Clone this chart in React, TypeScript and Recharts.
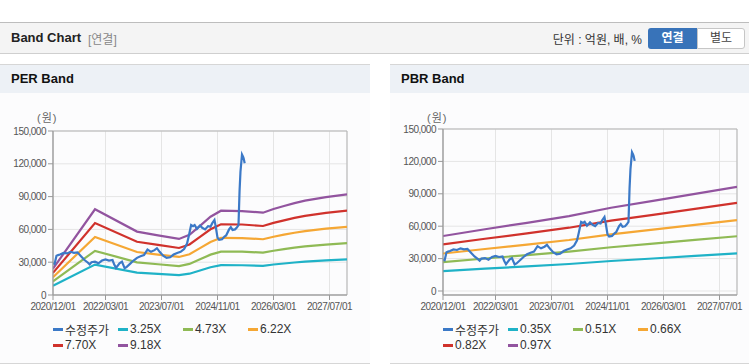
import React from "react";
import { LineChart, Line, XAxis, YAxis, CartesianGrid, ReferenceArea } from "recharts";

// x axis
const xTickLabels = ["2020/12/01", "2022/03/01", "2023/07/01", "2024/11/01", "2026/03/01", "2027/07/01"];
const xStart = "2020/12/01";
const xEnd = "2027/12/01";
const yTicks = [0, 30000, 60000, 90000, 120000, 150000];

// 수정주가 (same in both charts)
const priceDates = [
  "2020/12/01", "2020/12/15", "2021/01/01", "2021/01/15", "2021/02/01", "2021/03/01", "2021/04/01",
  "2021/05/01", "2021/06/01", "2021/07/01", "2021/08/01", "2021/09/01", "2021/10/01", "2021/10/15",
  "2021/11/01", "2021/12/01", "2022/01/01", "2022/02/01", "2022/03/01", "2022/04/01", "2022/05/01",
  "2022/05/15", "2022/06/01", "2022/07/01", "2022/07/22", "2022/08/15", "2022/09/01", "2022/10/01",
  "2022/11/01", "2022/12/01", "2023/01/01", "2023/02/01", "2023/03/01", "2023/04/01", "2023/05/01",
  "2023/05/22", "2023/06/15", "2023/07/15", "2023/08/15", "2023/09/15", "2023/10/15", "2023/11/15",
  "2023/12/15", "2024/01/15", "2024/02/10", "2024/02/25", "2024/03/15", "2024/04/01", "2024/04/15",
  "2024/05/05", "2024/06/01", "2024/06/20", "2024/07/15", "2024/08/10", "2024/09/01", "2024/09/15",
  "2024/10/05", "2024/10/15", "2024/11/01", "2024/11/15", "2024/12/10", "2025/01/01", "2025/01/15",
  "2025/02/10", "2025/02/25", "2025/03/10", "2025/04/01", "2025/04/15", "2025/05/01", "2025/05/10",
  "2025/05/18", "2025/06/01", "2025/06/10", "2025/06/15", "2025/06/24",
];
const priceValues = [
  29000, 28500, 35800, 36500, 37000, 38500, 38000,
  39500, 38500, 39000, 35500, 32000, 29500, 28000,
  30000, 30500, 29000, 31500, 32500, 31500, 32000,
  28000, 24800, 29000, 30500, 24500, 25500, 28500,
  31500, 34000, 35500, 36500, 41500, 39500, 41000,
  42800, 39500, 36000, 34000, 34500, 37000, 38500,
  39500, 42000, 47000, 54000, 64000, 63000, 64000,
  60500, 63500, 61500, 60000, 63000, 62500, 65500,
  68600, 63000, 52500, 50500, 51000, 53500, 54500,
  60000, 62000, 59500, 60000, 61500, 64000, 95000,
  113000, 128500, 126500, 125000, 120500,
];

// PER band
const perDates = [
  "2020/12/01", "2021/12/01", "2022/12/01", "2023/06/01", "2023/12/01", "2024/03/01", "2024/06/01",
  "2024/09/01", "2024/12/01", "2025/06/01", "2025/12/01", "2026/03/01", "2026/06/01", "2026/09/01",
  "2026/12/01", "2027/06/01", "2027/12/01",
];
const perLabels = ["3.25X", "4.73X", "6.22X", "7.70X", "9.18X"];
const per325 = [8500, 27800, 20500, 19300, 18200, 19500, 22400, 25400, 27300, 27200, 26700, 27900, 28800, 29700, 30600, 31700, 32600];
const per473 = [12400, 40400, 29900, 28100, 26400, 28400, 32600, 36900, 39700, 39600, 38800, 40500, 42000, 43300, 44500, 46100, 47400];
const per622 = [16300, 53100, 39300, 37000, 34800, 37300, 42900, 48500, 52300, 52100, 51000, 53300, 55200, 56900, 58500, 60700, 62300];
const per770 = [20200, 65800, 48700, 45800, 43000, 46200, 53100, 60100, 64700, 64500, 63100, 66000, 68300, 70500, 72400, 75100, 77200];
const per918 = [24100, 78400, 58000, 54600, 51300, 55100, 63300, 71600, 77100, 76800, 75300, 78700, 81400, 84000, 86300, 89500, 92000];

// PBR band
const pbrDates = [
  "2020/12/01", "2021/12/01", "2022/12/01", "2023/12/01", "2024/12/01", "2025/12/01", "2026/12/01", "2027/12/01",
];
const pbrLabels = ["0.35X", "0.51X", "0.66X", "0.82X", "0.97X"];
const pbr035 = [18400, 20700, 22800, 25000, 27800, 30100, 32500, 34800];
const pbr051 = [26800, 30100, 33200, 36500, 40500, 43900, 47300, 50700];
const pbr066 = [34700, 38900, 42900, 47200, 52500, 56800, 61200, 65700];
const pbr082 = [43100, 48400, 53300, 58600, 65200, 70500, 76100, 81600];
const pbr097 = [50900, 57200, 63100, 69400, 77100, 83400, 90000, 96500];

const priceColor = "#3b79c7";
const bandColors = ["#1fb2c7", "#8fba55", "#f5a734", "#d0322c", "#92549f"];

const toMonth = (s: string) => {
  const [y, m, d] = s.split("/").map(Number);
  const [y0, m0] = xStart.split("/").map(Number);
  return (y - y0) * 12 + (m - m0) + (d - 1) / 30;
};

const toRows = (dates: string[], values: number[]) => dates.map((d, i) => ({ m: toMonth(d), v: values[i] }));

const fmt = (v: number) => v.toLocaleString("en-US");

const tickStyle = { fontSize: 10, fill: "#555", letterSpacing: "-0.5px" };

type PanelProps = {
  title: string;
  left: number;
  width: number;
  plotTop: number;
  yMin: number;
  dates: string[];
  bands: number[][];
  labels: string[];
};

function BandPanel({ title, left, width, plotTop, yMin, dates, bands, labels }: PanelProps) {
  const price = toRows(priceDates, priceValues);
  const xTicks = xTickLabels.map(toMonth);
  const labelOf = (m: number) => xTickLabels[xTicks.indexOf(m)] ?? "";
  const chartTop = 40;
  const legendItems = [{ name: "수정주가", color: priceColor }].concat(
    labels.map((l, i) => ({ name: l, color: bandColors[i] }))
  );
  return (
    <div
      style={{
        position: "absolute",
        left,
        top: 64,
        width,
        height: 300,
        background: "#fcfcfd",
        borderTop: "1px solid #d6d6d6",
        borderBottom: "1px solid #d6d6d6",
        boxSizing: "border-box",
      }}
    >
      <div
        style={{
          height: 28,
          background: "#edf1f6",
          fontWeight: "bold",
          fontSize: 13,
          color: "#111",
          lineHeight: "28px",
          paddingLeft: 11,
        }}
      >
        {title}
      </div>
      <div style={{ position: "absolute", left: 37, top: 47, fontSize: 11, color: "#666", lineHeight: "13px", letterSpacing: "1px" }}>
        (원)
      </div>
      <div style={{ position: "absolute", left: 0, top: chartTop - 1 }}>
        <LineChart width={width} height={220} margin={{ top: plotTop - chartTop, right: width - 347, bottom: 4, left: 0 }}>
          <CartesianGrid stroke="#e5e5e5" />
          <XAxis
            type="number"
            dataKey="m"
            domain={[0, toMonth(xEnd)]}
            ticks={xTicks}
            interval={0}
            allowDataOverflow
            tickFormatter={labelOf}
            height={25}
            tickSize={5}
            tickMargin={3}
            tick={tickStyle}
            axisLine={{ stroke: "#999" }}
            tickLine={{ stroke: "#999" }}
          />
          <YAxis
            type="number"
            domain={[yMin, 150000]}
            ticks={yTicks}
            interval={0}
            allowDataOverflow
            width={53}
            tickFormatter={fmt}
            tickSize={5}
            tickMargin={2}
            tick={tickStyle}
            axisLine={{ stroke: "#999" }}
            tickLine={{ stroke: "#999" }}
          />
          <ReferenceArea x1={0} x2={toMonth(xEnd)} y1={yMin} y2={150000} fill="none" stroke="#b5b5b5" />
          {bands.map((b, i) => (
            <Line
              key={labels[i]}
              data={toRows(dates, b)}
              dataKey="v"
              name={labels[i]}
              type="linear"
              stroke={bandColors[i]}
              strokeWidth={2.2}
              dot={false}
              isAnimationActive={false}
            />
          ))}
          <Line
            data={price}
            dataKey="v"
            name="수정주가"
            type="linear"
            stroke={priceColor}
            strokeWidth={2.2}
            dot={false}
            isAnimationActive={false}
          />
        </LineChart>
      </div>
      <div style={{ position: "absolute", left: 53, top: 256, width: 270, display: "flex", flexWrap: "wrap" }}>
        {legendItems.map((it) => (
          <div key={it.name} style={{ width: 65, height: 16, display: "flex", alignItems: "center", fontSize: 12, color: "#333" }}>
            <span style={{ display: "inline-block", width: 10, height: 3, background: it.color, marginRight: 2 }} />
            {it.name}
          </div>
        ))}
      </div>
    </div>
  );
}

export default function App() {
  return (
    <div
      style={{
        position: "absolute",
        left: 0,
        top: 0,
        width: 749,
        height: 364,
        background: "#fff",
        overflow: "hidden",
        fontFamily: "'Liberation Sans', 'Noto Sans CJK KR', sans-serif",
      }}
    >
      <div
        style={{
          position: "absolute",
          left: 0,
          top: 22,
          width: 749,
          height: 32,
          background: "#f4f4f4",
          borderTop: "1px solid #bdbdbd",
          borderBottom: "1px solid #cfcfcf",
          boxSizing: "border-box",
        }}
      >
        <span style={{ position: "absolute", left: 11, top: 7, fontSize: 13, fontWeight: "bold", color: "#222" }}>Band Chart</span>
        <span style={{ position: "absolute", left: 88, top: 7, fontSize: 12, color: "#888" }}>[연결]</span>
        <span style={{ position: "absolute", right: 107, top: 7, fontSize: 12, color: "#333" }}>단위 : 억원, 배, %</span>
        <div
          style={{
            position: "absolute",
            left: 648,
            top: 5,
            width: 49,
            height: 21,
            background: "#3873b9",
            borderRadius: "3px 0 0 3px",
            color: "#fff",
            fontWeight: "bold",
            fontSize: 12,
            textAlign: "center",
            lineHeight: "21px",
          }}
        >
          연결
        </div>
        <div
          style={{
            position: "absolute",
            left: 697,
            top: 5,
            width: 48,
            height: 21,
            background: "#fff",
            border: "1px solid #c6c6c6",
            boxSizing: "border-box",
            borderRadius: "0 3px 3px 0",
            color: "#444",
            fontSize: 12,
            textAlign: "center",
            lineHeight: "19px",
          }}
        >
          별도
        </div>
      </div>
      <BandPanel
        title="PER Band"
        left={0}
        width={370}
        plotTop={67}
        yMin={0}
        dates={perDates}
        bands={[per325, per473, per622, per770, per918]}
        labels={perLabels}
      />
      <BandPanel
        title="PBR Band"
        left={390}
        width={359}
        plotTop={65}
        yMin={-3700}
        dates={pbrDates}
        bands={[pbr035, pbr051, pbr066, pbr082, pbr097]}
        labels={pbrLabels}
      />
    </div>
  );
}
